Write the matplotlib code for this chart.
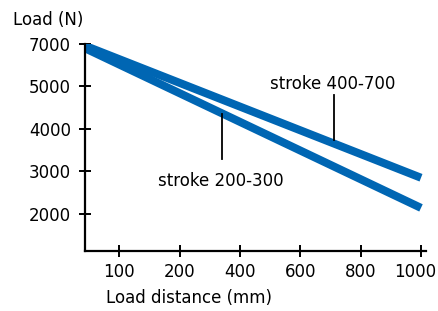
import matplotlib
matplotlib.use('Agg')
import matplotlib.pyplot as plt
import matplotlib.transforms as mtransforms

# x axis is categorical (evenly spaced labels)
x_labels = ["100", "200", "400", "600", "800", "1000"]
# y axis ticks as drawn: the top tick reads 7000 but sits one step above 5000
y_tick_pos = [2000, 3000, 4000, 5000, 6000]
y_tick_labels = ["2000", "3000", "4000", "5000", "7000"]

# line values in axis units (start at the axis origin, end at 1000 mm)
stroke_400_700 = [5960, 2850]
stroke_200_300 = [5900, 2140]

blue = '#0066b3'
plt.rcParams['font.family'] = ['DejaVu Sans']
fs = 12

fig = plt.figure(figsize=(4.39, 3.11), dpi=100)
ax = fig.add_axes([0.1936, 0.1939, 0.7768, 0.6646])

x_left, x_right = -0.568, 5.083
x_pos = list(range(len(x_labels)))
line_x = [x_left, x_pos[-1]]

ax.plot(line_x, stroke_400_700, color=blue, lw=5.8, solid_capstyle='butt')
ax.plot(line_x, stroke_200_300, color=blue, lw=5.8, solid_capstyle='butt')

# leader lines and labels
ax.plot([3.558, 3.558], [4790, 3750], color='black', lw=1.3)
ax.text(3.54, 5050, "stroke 400-700", ha='center', va='center', fontsize=fs)
ax.plot([1.702, 1.702], [4340, 3280], color='black', lw=1.3)
ax.text(1.686, 2780, "stroke 200-300", ha='center', va='center', fontsize=fs)

ax.set_xlim(x_left, x_right)
ax.set_ylim(1132, 6000)
ax.set_xticks(x_pos)
ax.set_xticklabels(x_labels)
ax.set_yticks(y_tick_pos)
ax.set_yticklabels(y_tick_labels)

for side in ['top', 'right']:
    ax.spines[side].set_visible(False)
for side in ['left', 'bottom']:
    ax.spines[side].set_linewidth(1.6)
ax.tick_params(direction='inout', length=9, width=1.4, labelsize=fs)
ax.tick_params(axis='y', pad=5.5)
ax.tick_params(axis='x', pad=4.5)

# nudge the last x label left so it stays inside the figure
last = ax.get_xticklabels()[-1]
last.set_transform(last.get_transform() + mtransforms.ScaledTranslation(-6 / 100, 0, fig.dpi_scale_trans))

fig.text(13 / 439, 1 - 20 / 311, "Load (N)", ha='left', va='center', fontsize=fs)
fig.text(189 / 439, 1 - 298 / 311, "Load distance (mm)", ha='center', va='center', fontsize=fs)

fig.savefig('out.png', dpi=100)
